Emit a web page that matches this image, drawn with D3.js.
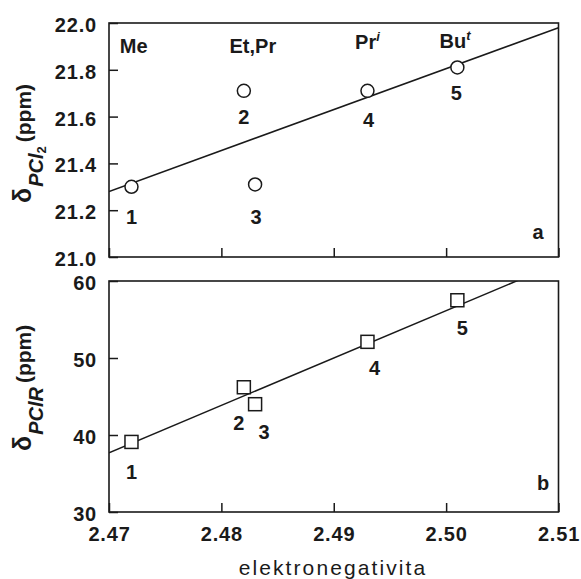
<!DOCTYPE html>
<html><head><meta charset="utf-8">
<script src="https://cdn.jsdelivr.net/npm/d3@7"></script>
<style>
html,body{margin:0;padding:0;background:#fff;}
svg{display:block;}
text{font-family:"Liberation Sans",Arial,Helvetica,sans-serif;fill:#1a1a1a;}
</style></head>
<body>
<script>
// ---- data ----
const xTickValues = [2.47, 2.48, 2.49, 2.50, 2.51];
const topTickValues = [21.0, 21.2, 21.4, 21.6, 21.8, 22.0];
const bottomTickValues = [30, 40, 50, 60];
const pointIds = ["1", "2", "3", "4", "5"];
const electronegativity = [2.472, 2.482, 2.483, 2.493, 2.501];
const shiftPCl2 = [21.30, 21.71, 21.31, 21.71, 21.81];
const shiftPClR = [39.1, 46.2, 44.0, 52.1, 57.5];
const fitPCl2 = [[2.47, 21.28], [2.51, 21.98]];
const fitPClR = [[2.47, 37.7], [2.51, 62.3]];
const groupNames = [["Me", ""], ["Et,Pr", ""], ["Pr", "i"], ["Bu", "t"]];
const groupX = [2.4722, 2.4828, 2.493, 2.5008];

// ---- layout ----
const W = 581, H = 579;
const svg = d3.select("body").append("svg").attr("width", W).attr("height", H);
const ink = "#1a1a1a";
const x = d3.scaleLinear().domain([2.47, 2.51]).range([109, 558.5]);
const yTop = d3.scaleLinear().domain([21.0, 22.0]).range([257, 23]);
const yBot = d3.scaleLinear().domain([30, 60]).range([512, 281]);

function panel(y, yTicks, fmt, fit, vals, marker, labelOff, tag, tagPos, clipId) {
  const [x0, x1] = x.range();
  const [yb, yt] = y.range();
  svg.append("clipPath").attr("id", clipId).append("rect")
    .attr("x", x0).attr("y", yt).attr("width", x1 - x0).attr("height", yb - yt);

  // fit line
  svg.append("line")
    .attr("clip-path", `url(#${clipId})`)
    .attr("x1", x(fit[0][0])).attr("y1", y(fit[0][1]))
    .attr("x2", x(fit[1][0])).attr("y2", y(fit[1][1]))
    .attr("stroke", ink).attr("stroke-width", 1.5);

  // left axis
  const ya = svg.append("g").attr("transform", `translate(${x0},0)`)
    .call(d3.axisLeft(y).tickValues(yTicks).tickFormat(fmt).tickSizeInner(-9).tickSizeOuter(0).tickPadding(12));
  ya.select(".domain").remove();
  ya.selectAll("line").attr("stroke", ink).attr("stroke-width", 1.5);
  ya.selectAll("text").attr("font-size", 20).attr("font-weight", "bold").attr("dy", "0.42em")
    .attr("letter-spacing", 0.8).attr("fill", ink);

  // bottom ticks (inside)
  const xa = svg.append("g").attr("transform", `translate(0,${yb})`)
    .call(d3.axisBottom(x).tickValues(xTickValues).tickSizeInner(-9).tickSizeOuter(0).tickFormat(""));
  xa.select(".domain").remove();
  xa.selectAll("line").attr("stroke", ink).attr("stroke-width", 1.5);

  // frame
  svg.append("rect").attr("x", x0).attr("y", yt).attr("width", x1 - x0).attr("height", yb - yt)
    .attr("fill", "none").attr("stroke", ink).attr("stroke-width", 1.6);

  // markers
  const g = svg.append("g");
  if (marker === "circle") {
    g.selectAll("circle").data(vals).join("circle")
      .attr("cx", (d, i) => x(electronegativity[i])).attr("cy", d => y(d)).attr("r", 6.5)
      .attr("fill", "#fff").attr("stroke", ink).attr("stroke-width", 1.5);
  } else {
    g.selectAll("rect").data(vals).join("rect")
      .attr("x", (d, i) => x(electronegativity[i]) - 6.5).attr("y", d => y(d) - 6.5)
      .attr("width", 13).attr("height", 13)
      .attr("fill", "#fff").attr("stroke", ink).attr("stroke-width", 1.5);
  }
  // point labels
  svg.append("g").selectAll("text").data(vals).join("text")
    .attr("x", (d, i) => x(electronegativity[i]) + labelOff[i][0])
    .attr("y", (d, i) => y(d) + labelOff[i][1])
    .attr("text-anchor", "middle").attr("dy", "0.36em")
    .attr("font-size", 20).attr("font-weight", "bold")
    .text((d, i) => pointIds[i]);

  svg.append("text").attr("x", tagPos[0]).attr("y", tagPos[1]).attr("text-anchor", "middle")
    .attr("dy", "0.36em").attr("font-size", 20).attr("font-weight", "bold").text(tag);
}

panel(yTop, topTickValues, d3.format(".1f"), fitPCl2, shiftPCl2, "circle",
  [[0, 30], [0, 26], [1, 32], [1, 29], [-1, 25]], "a", [538, 232], "clipA");
panel(yBot, bottomTickValues, d3.format("d"), fitPClR, shiftPClR, "square",
  [[0, 30], [-5, 36], [9, 28], [7, 26], [5, 28]], "b", [543, 483], "clipB");

// group labels on top panel
const groupY = [46, 46, 42, 41];
const gl = svg.append("g").selectAll("text").data(groupNames).join("text")
  .attr("x", (d, i) => x(groupX[i])).attr("y", (d, i) => groupY[i]).attr("dy", "0.36em")
  .attr("text-anchor", "middle").attr("font-size", 20).attr("font-weight", "bold");
gl.append("tspan").text(d => d[0]);
gl.filter(d => d[1]).append("tspan").attr("dy", -8).attr("font-size", 13)
  .attr("font-style", "italic").text(d => d[1]);

// x tick labels
const xl = svg.append("g").attr("transform", `translate(0,512)`)
  .call(d3.axisBottom(x).tickValues(xTickValues).tickFormat(d3.format(".2f")).tickSize(0).tickPadding(15));
xl.select(".domain").remove();
xl.selectAll("text").attr("font-size", 20).attr("font-weight", "bold").attr("letter-spacing", 0.8).attr("fill", ink);

// x title
svg.append("text").attr("x", 333).attr("y", 575).attr("text-anchor", "middle")
  .attr("font-size", 21).attr("letter-spacing", 2.1).text("elektronegativita");

// y titles
function yTitle(yStart, sub, sub2) {
  const t = svg.append("text").attr("transform", `translate(31,${yStart}) rotate(-90)`)
    .attr("font-weight", "bold");
  t.append("tspan").attr("font-size", 25).text("δ");
  t.append("tspan").attr("font-size", 20).attr("font-style", "italic").attr("dy", 12).attr("dx", 1).text(sub);
  let back = -12;
  if (sub2) {
    t.append("tspan").attr("font-size", 13).attr("dy", 3).text(sub2);
    back = -15;
  }
  t.append("tspan").attr("font-size", 21).attr("dy", back).attr("dx", 4).text("(ppm)");
}
yTitle(203, "PCl", "2");
yTitle(451, "PClR", null);
</script>
</body></html>
